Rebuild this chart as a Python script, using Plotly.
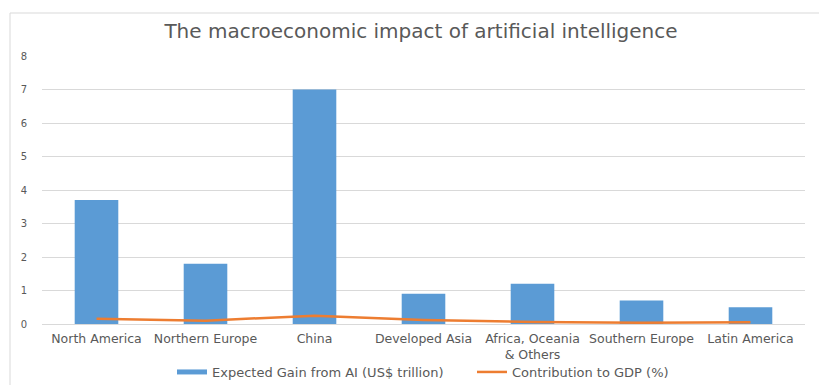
import plotly.graph_objects as go

categories = ["North America", "Northern Europe", "China", "Developed Asia",
              "Africa, Oceania<br>& Others", "Southern Europe", "Latin America"]
expected_gain = [3.7, 1.8, 7.0, 0.9, 1.2, 0.7, 0.5]
gdp_contribution = [0.16, 0.1, 0.25, 0.12, 0.06, 0.04, 0.05]
y_ticks = [0, 1, 2, 3, 4, 5, 6, 7, 8]

FONT = "DejaVu Sans, sans-serif"
GRAY = "#595959"
BLUE = "#5B9BD5"
ORANGE = "#ED7D31"

fig = go.Figure()
fig.add_trace(go.Bar(
    x=categories, y=expected_gain, name="Expected Gain from AI (US$ trillion)",
    marker=dict(color=BLUE, line=dict(width=0)), width=0.4, showlegend=False,
))
# legend-only entry giving the wide, flat swatch of the original
fig.add_trace(go.Scatter(
    x=[None], y=[None], name="Expected Gain from AI (US$ trillion)",
    mode="lines", line=dict(color=BLUE, width=5), hoverinfo="skip",
))
fig.add_trace(go.Scatter(
    x=categories, y=gdp_contribution, name="Contribution to GDP (%)",
    mode="lines", line=dict(color=ORANGE, width=2.5),
))

L, R, T, B = 42, 14, 56, 61
W, H = 819, 385
pw = W - L - R
ph = H - T - B

fig.update_layout(
    width=W, height=H,
    margin=dict(l=L, r=R, t=T, b=B, autoexpand=False),
    paper_bgcolor="white", plot_bgcolor="white",
    font=dict(family=FONT, color=GRAY, size=12),
    title=dict(text="The macroeconomic impact of artificial intelligence",
               x=421 / W, xanchor="center", y=1 - 31 / H, yanchor="middle",
               font=dict(size=20, color=GRAY, family=FONT)),
    showlegend=True,
    legend=dict(orientation="h", x=(172 - L) / pw, xanchor="left",
                y=-(372 - (T + ph)) / ph, yanchor="middle",
                font=dict(size=13, color=GRAY, family=FONT), entrywidth=255,
                itemwidth=30, bgcolor="rgba(0,0,0,0)"),
    xaxis=dict(showgrid=False, showline=False, ticks="", automargin=False,
               ticklabelstandoff=5,
               tickfont=dict(size=12.5, color=GRAY, family=FONT)),
    yaxis=dict(range=[0, 8], tickvals=y_ticks, showgrid=True, gridcolor="#D9D9D9",
               gridwidth=1, zeroline=True, zerolinecolor="#D9D9D9", zerolinewidth=1,
               showline=False, ticks="", ticklabelstandoff=14, automargin=False,
               tickfont=dict(size=10, color=GRAY, family=FONT)),
    shapes=[dict(type="rect", xref="paper", yref="paper",
                 x0=(10 - L) / pw, x1=(W + 5 - L) / pw,
                 y0=-(H + 5 - T - ph) / ph, y1=(T + ph - 13) / ph,
                 line=dict(color="#D9D9D9", width=1), fillcolor="rgba(0,0,0,0)",
                 layer="below")],
)

fig.write_html("out.html")
